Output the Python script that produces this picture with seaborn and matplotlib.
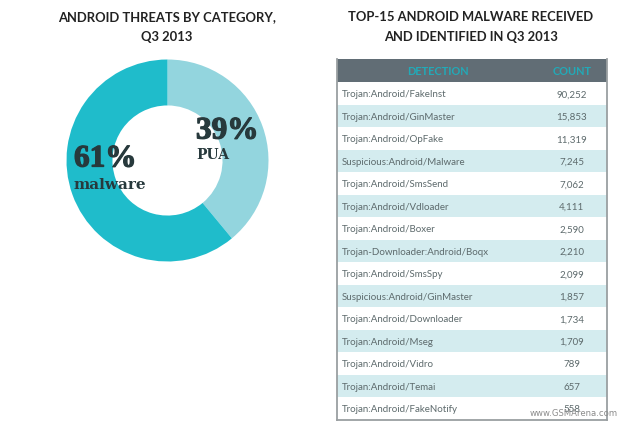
import pandas as pd
import matplotlib
matplotlib.use('Agg')
import matplotlib.pyplot as plt
import matplotlib.patheffects as pe
from matplotlib.colors import ListedColormap
import seaborn as sns

# donut data
CATEGORIES = ['PUA', 'malware']
SHARES = [39, 61]

# table data
DETECTIONS = [
    'Trojan:Android/FakeInst', 'Trojan:Android/GinMaster', 'Trojan:Android/OpFake',
    'Suspicious:Android/Malware', 'Trojan:Android/SmsSend', 'Trojan:Android/Vdloader',
    'Trojan:Android/Boxer', 'Trojan-Downloader:Android/Boqx', 'Trojan:Android/SmsSpy',
    'Suspicious:Android/GinMaster', 'Trojan:Android/Downloader', 'Trojan:Android/Mseg',
    'Trojan:Android/Vidro', 'Trojan:Android/Temai', 'Trojan:Android/FakeNotify',
]
COUNTS = [90252, 15853, 11319, 7245, 7062, 4111, 2590, 2210, 2099, 1857, 1734, 1709, 789, 657, 558]

W, H = 640, 448
TEAL = '#1fbccb'
PALE = '#93d5de'
HEADER = '#616d75'
BAND = '#d4ecef'
TEXT = '#5d6a6c'
SLAB = '#27393c'

sns.set_theme(style='white', font='Lato')


def box(fig, left, top, right, bottom):
    # axes from pixel edges, y counted from the top
    return fig.add_axes([left / W, 1 - bottom / H, (right - left) / W, (bottom - top) / H])


fig = plt.figure(figsize=(W / 100, H / 100), dpi=100)
fig.patch.set_facecolor('white')

for x, y, s in [(167, 17, 'ANDROID THREATS BY CATEGORY,'), (167, 37, 'Q3 2013'),
                (471, 17, 'TOP-15 ANDROID MALWARE RECEIVED'), (471, 37, 'AND IDENTIFIED IN Q3 2013')]:
    fig.text(x / W, 1 - y / H, s, ha='center', va='center',
             fontsize=9.4, fontweight='bold', color='#222222')

# donut
ax = box(fig, 66.5, 59.5, 268.5, 261.5)
ax.pie(SHARES, colors=sns.color_palette([PALE, TEAL]), startangle=90, counterclock=False,
       radius=1, wedgeprops={'width': 0.455, 'linewidth': 0})
ax.set_xlim(-1, 1)
ax.set_ylim(-1, 1)
ax.axis('off')

heavy = [pe.withStroke(linewidth=0.9, foreground=SLAB)]
fig.text(196 / W, 1 - 131 / H, f'{SHARES[0]}%', ha='left', va='center', family='Liberation Serif',
         fontsize=22.5, fontweight='bold', color=SLAB, path_effects=heavy)
fig.text(196 / W, 1 - 155 / H, CATEGORIES[0], ha='left', va='center', family='DejaVu Serif',
         fontsize=10, fontweight='bold', color=SLAB)
fig.text(74 / W, 1 - 159 / H, f'{SHARES[1]}%', ha='left', va='center', family='Liberation Serif',
         fontsize=22.5, fontweight='bold', color=SLAB, path_effects=heavy)
fig.text(74 / W, 1 - 185 / H, CATEGORIES[1], ha='left', va='center', family='DejaVu Serif',
         fontsize=11, fontweight='bold', color=SLAB)

# table, one heatmap cell per row with a header row on top
stripes = [0] + [1 + i % 2 for i in range(len(DETECTIONS))]
table = pd.DataFrame({'row': stripes})
tb = box(fig, 337, 59, 607, 420)
sns.heatmap(table, ax=tb, cbar=False, cmap=ListedColormap([HEADER, 'white', BAND]),
            vmin=0, vmax=2, xticklabels=False, yticklabels=False)
n = len(DETECTIONS)
tb.set_xlim(0, 1)
tb.set_ylim(n + 1, -0.04)
tb.set_facecolor(HEADER)
for side in tb.spines.values():
    side.set_visible(True)
    side.set_color('#9a9fa1')
    side.set_linewidth(1.3)
tb.spines['top'].set_visible(False)

tb.text(0.372, 0.5, 'DETECTION', ha='center', va='center', fontsize=7.9, fontweight='bold', color='#22aab8')
tb.text(0.87, 0.5, 'COUNT', ha='center', va='center', fontsize=7.9, fontweight='bold', color='#22aab8')
for i, (name, count) in enumerate(zip(DETECTIONS, COUNTS)):
    tb.text(0.018, i + 1.55, name, ha='left', va='center', fontsize=7.05, color=TEXT)
    tb.text(0.87, i + 1.55, f'{count:,}', ha='center', va='center', fontsize=7.05, color=TEXT)

# image watermark sits over the last row in the source
fig.text(618 / W, 1 - 413 / H, 'www.GSMArena.com', ha='right', va='center',
         fontsize=6.1, color='#8c8c8c', family='DejaVu Sans')

fig.savefig('out.png', dpi=100)
